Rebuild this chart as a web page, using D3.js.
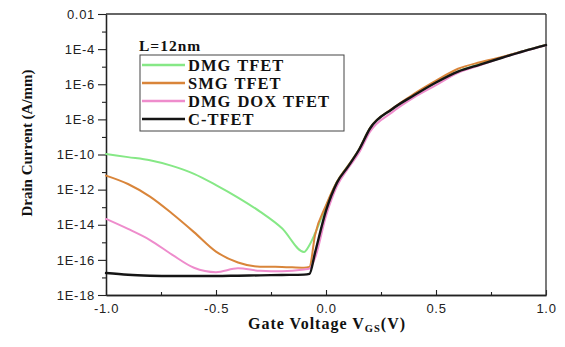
<!DOCTYPE html>
<html>
<head>
<meta charset="utf-8">
<script src="https://cdn.jsdelivr.net/npm/d3@7"></script>
<style>
  body { margin: 0; background: #fff; }
  svg { display: block; }
  .tick-label { font-family: "Liberation Sans", Arial, sans-serif; font-size: 13px; letter-spacing: 0.7px; fill: #222; }
  .serif-bold { font-family: "Liberation Serif", "Times New Roman", serif; font-weight: bold; fill: #111; }
</style>
</head>
<body>
<svg id="chart" width="565" height="347"></svg>
<script>
// gate voltage samples (V)
var vgs = [-1.0, -0.9, -0.8, -0.7, -0.6, -0.5, -0.4, -0.3, -0.2, -0.1, -0.075, -0.05,
           0.0, 0.05, 0.1, 0.15, 0.2, 0.3, 0.4, 0.5, 0.6, 0.7, 0.8, 0.9, 1.0];

// drain current, log10(A/mm)
var dmgTfet    = [-9.97, -10.15, -10.33, -10.65, -11.1, -11.74, -12.45, -13.25, -14.2, -15.55, -15.15, -14.5,
                  -12.95, -11.55, -10.65, -9.72, -8.5, -7.42, -6.62, -5.9, -5.27, -4.86, -4.47, -4.1, -3.76];
var smgTfet    = [-11.2, -11.68, -12.4, -13.36, -14.42, -15.53, -16.15, -16.39, -16.4, -16.45, -16.4, -14.6,
                  -12.9, -11.55, -10.65, -9.72, -8.5, -7.4, -6.55, -5.8, -5.12, -4.75, -4.45, -4.1, -3.77];
var dmgDoxTfet = [-13.67, -14.24, -14.87, -15.7, -16.45, -16.7, -16.48, -16.62, -16.65, -16.55, -16.5, -15.9,
                  -13.5, -11.8, -10.8, -9.9, -8.7, -7.6, -6.75, -6.05, -5.35, -4.92, -4.5, -4.12, -3.78];
var cTfet      = [-16.75, -16.85, -16.9, -16.92, -16.92, -16.92, -16.9, -16.88, -16.86, -16.84, -16.8, -15.6,
                  -13.2, -11.6, -10.69, -9.73, -8.52, -7.42, -6.63, -5.9, -5.28, -4.88, -4.49, -4.11, -3.77];

var seriesNames  = ["DMG TFET", "SMG TFET", "DMG DOX TFET", "C-TFET"];
var seriesColors = ["#86e886", "#d9853a", "#ee8ccc", "#151515"];

var xTicks = [-1.0, -0.5, 0.0, 0.5, 1.0];
var xTickLabels = ["-1.0", "-0.5", "0.0", "0.5", "1.0"];
var xMinorTicks = [-0.75, -0.25, 0.25, 0.75];
var yTicks = [1e-2, 1e-4, 1e-6, 1e-8, 1e-10, 1e-12, 1e-14, 1e-16, 1e-18];
var yTickLabels = ["0.01", "1E-4", "1E-6", "1E-8", "1E-10", "1E-12", "1E-14", "1E-16", "1E-18"];
var yMinorTicks = [1e-3, 1e-5, 1e-7, 1e-9, 1e-11, 1e-13, 1e-15, 1e-17];

var svg = d3.select("#chart");
var margin = {top: 14, right: 19, bottom: 52, left: 106};
var width = 565 - margin.left - margin.right;
var height = 347 - margin.top - margin.bottom;

var g = svg.append("g").attr("transform", "translate(" + margin.left + "," + margin.top + ")");

var x = d3.scaleLinear().domain([-1, 1]).range([0, width]);
var y = d3.scaleLog().domain([1e-18, 1e-2]).range([height, 0]);

// 軸
var xAxis = d3.axisBottom(x).tickValues(xTicks).tickSizeInner(-5).tickSizeOuter(0)
  .tickFormat(function(d, i){ return xTickLabels[i]; });
var gx = g.append("g").attr("transform", "translate(0," + height + ")").call(xAxis);
gx.selectAll("text").attr("class", "tick-label").attr("dy", "1.05em").attr("y", 4);

g.append("g").attr("transform", "translate(0," + height + ")")
  .call(d3.axisBottom(x).tickValues(xMinorTicks).tickSizeInner(-3).tickSizeOuter(0).tickFormat(""));

var yAxis = d3.axisLeft(y).tickValues(yTicks).tickSizeInner(8).tickSizeOuter(0)
  .tickFormat(function(d, i){ return yTickLabels[i]; });
var gy = g.append("g").call(yAxis);
gy.selectAll("text").attr("class", "tick-label").attr("x", -11);

g.append("g")
  .call(d3.axisLeft(y).tickValues(yMinorTicks).tickSizeInner(4).tickSizeOuter(0).tickFormat(""));

g.selectAll(".domain").attr("stroke", "#222").attr("stroke-width", 1.3);
g.selectAll(".tick line").attr("stroke", "#222").attr("stroke-width", 1.1);

// 枠
g.append("line").attr("x1", 0).attr("x2", width).attr("y1", 0).attr("y2", 0)
  .attr("stroke", "#333").attr("stroke-width", 1.3);
g.append("line").attr("x1", width).attr("x2", width).attr("y1", 0).attr("y2", height)
  .attr("stroke", "#333").attr("stroke-width", 1.3);

// curves
var allSeries = [dmgTfet, smgTfet, dmgDoxTfet, cTfet];
var line = d3.line()
  .curve(d3.curveMonotoneX)
  .x(function(d){ return x(d.v); })
  .y(function(d){ return y(d.i); });

allSeries.forEach(function(vals, k){
  var pts = vgs.map(function(v, j){ return {v: v, i: Math.pow(10, vals[j])}; });
  g.append("path")
    .attr("fill", "none")
    .attr("stroke", seriesColors[k])
    .attr("stroke-width", k === 3 ? 2.4 : 2)
    .attr("stroke-linejoin", "round")
    .attr("stroke-linecap", "round")
    .attr("d", line(pts));
});

// 凡例
svg.append("text").attr("class", "serif-bold")
  .attr("x", 139).attr("y", 51).style("font-size", "15.5px").style("letter-spacing", "1px")
  .text("L=12nm");

var legend = svg.append("g").attr("transform", "translate(140,55)");
legend.append("rect").attr("width", 204).attr("height", 76)
  .attr("fill", "#fff").attr("stroke", "#444").attr("stroke-width", 1);

seriesNames.forEach(function(name, k){
  var cy = 10 + k * 18;
  legend.append("line").attr("x1", 2).attr("x2", 45).attr("y1", cy).attr("y2", cy)
    .attr("stroke", seriesColors[k]).attr("stroke-width", 2.4);
  legend.append("text").attr("class", "serif-bold")
    .attr("x", 48).attr("y", cy + 5.5)
    .style("font-size", "16.5px").style("letter-spacing", "1px").style("word-spacing", "1px")
    .text(name);
});

// axis titles
var xt = svg.append("text").attr("class", "serif-bold")
  .attr("x", 327).attr("y", 329).attr("text-anchor", "middle")
  .style("font-size", "16px").style("letter-spacing", "1px");
xt.append("tspan").text("Gate Voltage V");
xt.append("tspan").attr("dy", 3).style("font-size", "10.5px").text("GS");
xt.append("tspan").attr("dy", -3).text("(V)");

svg.append("text").attr("class", "serif-bold")
  .attr("transform", "translate(32,143) rotate(-90)")
  .attr("text-anchor", "middle").style("font-size", "15px")
  .text("Drain Current (A/mm)");
</script>
</body>
</html>
